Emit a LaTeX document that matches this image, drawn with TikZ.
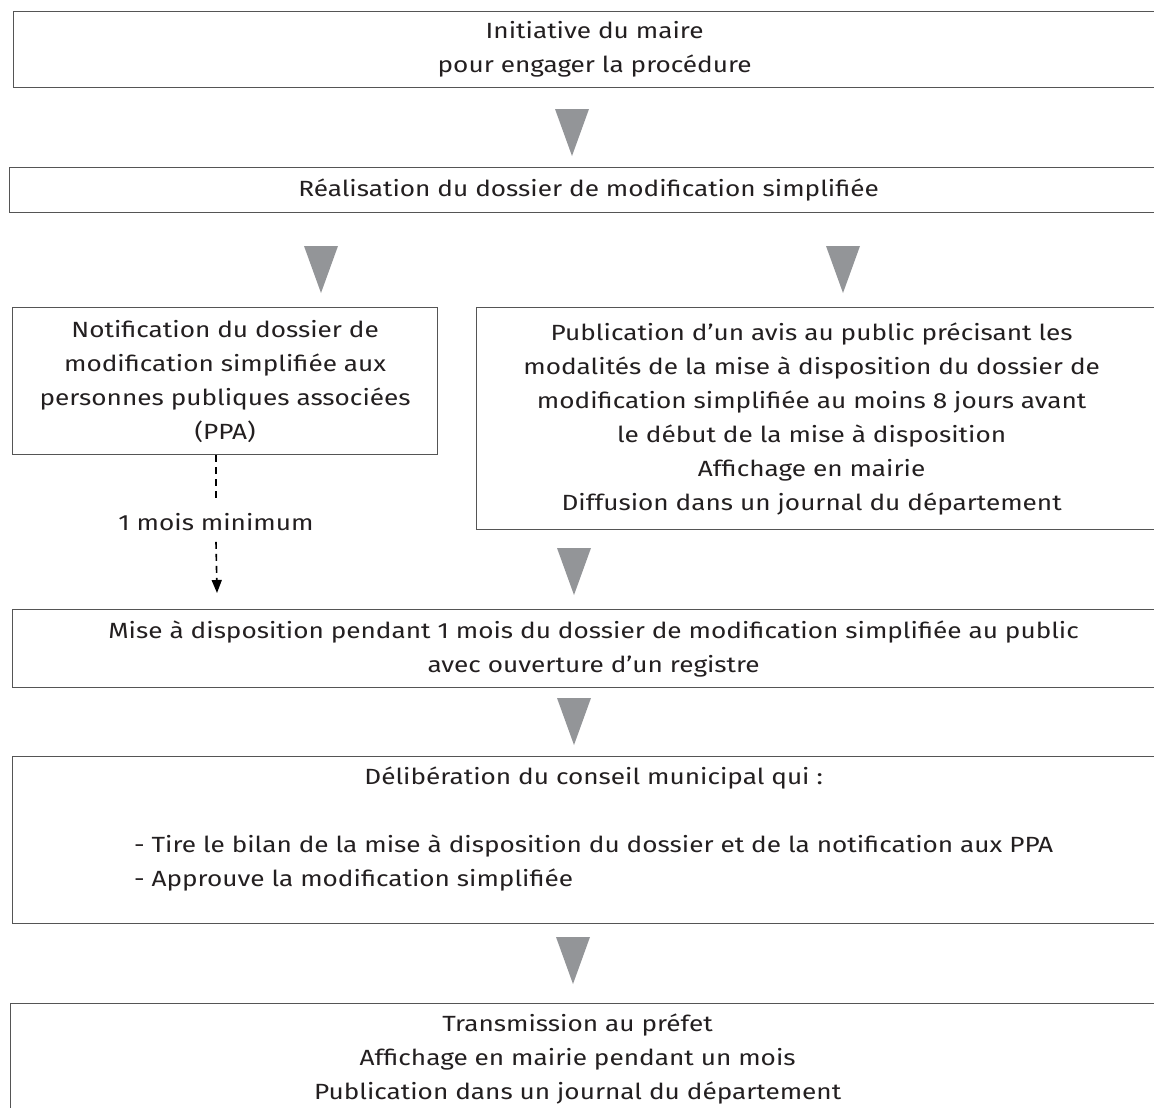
\documentclass[tikz,border=0pt]{standalone}
\usepackage{fontspec}
\setmainfont{Fira Sans}[FakeStretch=1.19]
\usetikzlibrary{arrows.meta}
\definecolor{trigray}{RGB}{147,149,152}
\definecolor{boxline}{RGB}{85,85,85}
\definecolor{inktext}{RGB}{35,31,32}

\begin{document}
\begin{tikzpicture}[
    x=1pt, y=-1pt, % one unit = one pixel of the page, y going down
    every node/.style={font=\fontsize{22}{34}\selectfont, text=inktext},
    etape/.style={draw=boxline, line width=1.3pt, anchor=north west, align=center, inner sep=0pt},
    fleche/.style={fill=trigray},
    delai/.style={draw=black, line width=1.6pt, dash pattern=on 7pt off 5pt}
  ]
  \useasboundingbox (0,0) rectangle (1154,1108);
  \clip (0,0) rectangle (1154,1108);

  % the steps, the boxes run past the right edge
  \node[etape, minimum width=1162pt, minimum height=76pt] (init) at (13,11)
    {Initiative du maire\\pour engager la procédure};
  \node[etape, minimum width=1158pt, minimum height=45pt] (real) at (9,167)
    {Réalisation du dossier de modification simplifiée};
  \node[etape, minimum width=425pt, minimum height=147pt] (notif) at (12,307)
    {Notification du dossier de\\modification simplifiée aux\\personnes publiques associées\\(PPA)};
  \node[etape, minimum width=704pt, minimum height=222pt] (pub) at (476,307)
    {\begin{tabular}[t]{@{}c@{\hspace{34pt}}}
     Publication d’un avis au public précisant les\\
     modalités de la mise à disposition du dossier de\\
     modification simplifiée au moins 8 jours avant\\
     le début de la mise à disposition\\
     Affichage en mairie\\
     Diffusion dans un journal du département
     \end{tabular}};
  \node[etape, minimum width=1162pt, minimum height=78pt] (mise) at (12,609)
    {Mise à disposition pendant 1 mois du dossier de modification simplifiée au public\\avec ouverture d’un registre};
  \node[etape, minimum width=1162pt, minimum height=167pt] (delib) at (12,756)
    {Délibération du conseil municipal qui :\\[34pt]
     \begin{tabular}[t]{@{}l@{}}
     - Tire le bilan de la mise à disposition du dossier et de la notification aux PPA\\
     - Approuve la modification simplifiée\\[17pt]
     \end{tabular}};
  \node[etape, minimum width=1170pt, minimum height=110pt] (trans) at (10,1003)
    {\begin{tabular}[t]{@{}c@{\hspace{36pt}}}
     Transmission au préfet\\
     Affichage en mairie pendant un mois\\
     Publication dans un journal du département
     \end{tabular}};

  % the grey arrow heads between the steps
  \fill[fleche] (555,109) -- ++(34,0) -- ++(-17,47) -- cycle;
  \fill[fleche] (304,246) -- ++(34,0) -- ++(-17,47) -- cycle;
  \fill[fleche] (826,246) -- ++(34,0) -- ++(-17,47) -- cycle;
  \fill[fleche] (557,548) -- ++(34,0) -- ++(-17,47) -- cycle;
  \fill[fleche] (557,698) -- ++(34,0) -- ++(-17,47) -- cycle;
  \fill[fleche] (556,937) -- ++(34,0) -- ++(-17,47) -- cycle;

  % one month delay
  \node[inner ysep=11pt] (mois) at (216,522) {1 mois minimum};
  \coordinate (fin) at (217,593);
  \draw[delai] (mois.north |- notif.south) -- (mois.north);
  \draw[delai, -{Triangle[length=13pt,width=10pt]}] (mois.south) -- (fin);
\end{tikzpicture}
\end{document}
